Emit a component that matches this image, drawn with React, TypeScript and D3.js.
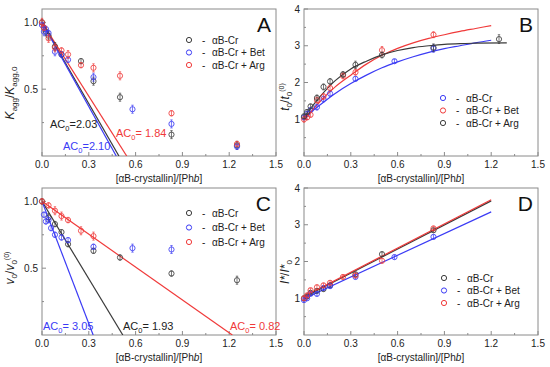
import React from 'react';
import * as d3 from 'd3';

// [ratio, value, error]
type Pt = [number, number, number];

// Panel A: Kagg/Kagg,0
const aCr: Pt[] = [[0, 1.0, 0.02], [0.0125, 0.96, 0.03], [0.025, 0.93, 0.03], [0.042, 0.9, 0.03], [0.083, 0.82, 0.03], [0.125, 0.76, 0.02], [0.25, 0.71, 0.02], [0.33, 0.56, 0.03], [0.5, 0.44, 0.03], [0.83, 0.16, 0.03], [1.25, 0.08, 0.03]];
const aBet: Pt[] = [[0, 0.98, 0.02], [0.0125, 0.93, 0.03], [0.025, 0.95, 0.02], [0.042, 0.92, 0.02], [0.083, 0.78, 0.03], [0.125, 0.76, 0.02], [0.167, 0.72, 0.02], [0.33, 0.59, 0.03], [0.58, 0.35, 0.03], [0.83, 0.24, 0.03], [1.25, 0.07, 0.02]];
const aArg: Pt[] = [[0, 1.0, 0.03], [0.0125, 0.96, 0.02], [0.042, 0.88, 0.03], [0.083, 0.81, 0.03], [0.125, 0.79, 0.02], [0.167, 0.76, 0.03], [0.25, 0.68, 0.02], [0.33, 0.66, 0.03], [0.5, 0.6, 0.03], [0.83, 0.32, 0.02], [1.25, 0.09, 0.02]];
const aLineCr: [number, number][] = [[0, 1.0], [0.493, 0]];
const aLineBet: [number, number][] = [[0, 1.0], [0.476, 0]];
const aLineArg: [number, number][] = [[0, 1.0], [0.543, 0]];

// Panel B: t0/t0(0)
const bCr: Pt[] = [[0, 1.05, 0.06], [0.02, 1.15, 0.06], [0.042, 1.25, 0.06], [0.083, 1.33, 0.08], [0.125, 1.55, 0.08], [0.167, 1.7, 0.08], [0.33, 2.1, 0.06], [0.58, 2.58, 0.05], [0.83, 2.92, 0.1]];
const bBet: Pt[] = [[0, 1.0, 0.08], [0.02, 1.05, 0.06], [0.042, 1.12, 0.06], [0.083, 1.52, 0.08], [0.125, 1.62, 0.08], [0.167, 1.85, 0.08], [0.25, 2.18, 0.08], [0.33, 2.28, 0.08], [0.5, 2.88, 0.1], [0.83, 3.3, 0.08]];
const bArg: Pt[] = [[0, 1.08, 0.06], [0.02, 1.2, 0.06], [0.042, 1.35, 0.06], [0.083, 1.58, 0.08], [0.125, 1.88, 0.08], [0.167, 2.03, 0.08], [0.25, 2.22, 0.08], [0.33, 2.48, 0.1], [0.5, 2.75, 0.08], [0.83, 2.95, 0.1], [1.25, 3.18, 0.12]];
const bFitCr: [number, number][] = [[0, 1.05], [0.1, 1.38], [0.2, 1.7], [0.3, 1.97], [0.4, 2.2], [0.5, 2.4], [0.6, 2.56], [0.7, 2.7], [0.8, 2.82], [0.9, 2.92], [1.0, 3.0], [1.1, 3.08], [1.2, 3.15]];
const bFitBet: [number, number][] = [[0, 0.98], [0.1, 1.47], [0.2, 1.88], [0.3, 2.2], [0.4, 2.5], [0.5, 2.74], [0.6, 2.93], [0.7, 3.08], [0.8, 3.2], [0.9, 3.3], [1.0, 3.39], [1.1, 3.47], [1.2, 3.55]];
const bFitArg: [number, number][] = [[0, 1.05], [0.1, 1.6], [0.2, 2.05], [0.3, 2.37], [0.4, 2.58], [0.5, 2.75], [0.6, 2.87], [0.7, 2.95], [0.8, 3.0], [0.9, 3.04], [1.0, 3.06], [1.1, 3.07], [1.3, 3.08]];

// Panel C: v0/v0(0)
const cCr: Pt[] = [[0, 1.0, 0.02], [0.042, 0.88, 0.03], [0.083, 0.83, 0.02], [0.125, 0.77, 0.02], [0.167, 0.68, 0.02], [0.33, 0.63, 0.02], [0.5, 0.58, 0.02], [0.83, 0.46, 0.02], [1.25, 0.41, 0.03]];
const cBet: Pt[] = [[0.0125, 0.9, 0.02], [0.025, 0.85, 0.02], [0.042, 0.86, 0.02], [0.058, 0.8, 0.02], [0.083, 0.75, 0.02], [0.125, 0.73, 0.02], [0.167, 0.71, 0.02], [0.33, 0.66, 0.02], [0.58, 0.65, 0.03], [0.83, 0.64, 0.03]];
const cArg: Pt[] = [[0, 1.0, 0.02], [0.042, 0.97, 0.02], [0.083, 0.93, 0.03], [0.125, 0.89, 0.03], [0.167, 0.86, 0.02], [0.25, 0.78, 0.03], [0.33, 0.74, 0.03]];
const cLineCr: [number, number][] = [[0, 1.0], [0.518, 0]];
const cLineBet: [number, number][] = [[0, 1.0], [0.328, 0]];
const cLineArg: [number, number][] = [[0, 1.0], [1.22, 0]];

// Panel D: I*/I*0
const dCr: Pt[] = [[0, 1.0, 0.05], [0.02, 1.05, 0.05], [0.042, 1.15, 0.05], [0.083, 1.2, 0.06], [0.125, 1.25, 0.06], [0.167, 1.35, 0.06], [0.33, 1.65, 0.06], [0.5, 2.2, 0.06], [0.83, 2.85, 0.06]];
const dBet: Pt[] = [[0, 0.95, 0.05], [0.02, 1.0, 0.05], [0.042, 1.12, 0.05], [0.083, 1.12, 0.06], [0.125, 1.28, 0.06], [0.167, 1.33, 0.06], [0.33, 1.58, 0.06], [0.58, 2.12, 0.06], [0.83, 2.67, 0.06]];
const dArg: Pt[] = [[0, 1.0, 0.05], [0.02, 1.08, 0.05], [0.042, 1.22, 0.05], [0.083, 1.3, 0.06], [0.125, 1.35, 0.06], [0.167, 1.42, 0.06], [0.25, 1.58, 0.05], [0.33, 1.62, 0.06], [0.5, 2.02, 0.06], [0.83, 2.9, 0.06]];
const dLineCr: [number, number][] = [[0, 1.03], [1.2, 3.65]];
const dLineBet: [number, number][] = [[0, 0.99], [1.2, 3.35]];
const dLineArg: [number, number][] = [[0, 1.05], [1.2, 3.68]];

const legendA = ['αB-Cr', 'αB-Cr + Bet', 'αB-Cr + Arg'];

const BLACK = '#3a3a3a';
const BLUE = '#3b3bf5';
const RED = '#f03a3a';
const FONT = 'Arial, "Liberation Sans", sans-serif';

const W = 234;
const H = 147;

interface Series { pts: Pt[]; color: string }
interface Line { pts: [number, number][]; color: string; smooth?: boolean }

interface PanelProps {
  x: number;
  y: number;
  letter: string;
  yMax: number;
  yMajor: number[];
  yMinor: number[];
  yFmt: (v: number) => string;
  yTitle: React.ReactNode;
  series: Series[];
  lines: Line[];
  legend: { label: string; color: string }[];
  legendX: number;
  legendY: number;
  legendStep: number;
  notes?: React.ReactNode;
}

const xMajor = [0, 0.3, 0.6, 0.9, 1.2, 1.5];
const xMinor = [0.15, 0.45, 0.75, 1.05, 1.35];

function Panel(p: PanelProps) {
  const xs = d3.scaleLinear().domain([0, 1.5]).range([0, W]);
  const ys = d3.scaleLinear().domain([0, p.yMax]).range([H, 0]);
  const straight = d3.line<[number, number]>().x(d => xs(d[0])).y(d => ys(d[1]));
  const smooth = d3.line<[number, number]>().x(d => xs(d[0])).y(d => ys(d[1])).curve(d3.curveMonotoneX);
  return (
    <g transform={`translate(${p.x},${p.y})`} fontFamily={FONT}>
      <defs>
        <clipPath id={`clip${p.letter}`}><rect x={0} y={0} width={W} height={H} /></clipPath>
      </defs>
      <rect x={0} y={0} width={W} height={H} fill="none" stroke="#8a8a8a" strokeWidth={1} />
      {xMajor.map(v => (
        <g key={'xm' + v}>
          <line x1={xs(v)} x2={xs(v)} y1={H} y2={H - 4} stroke="#8a8a8a" />
          <text x={xs(v)} y={H + 12} fontSize={10} textAnchor="middle" fill="#222">{v.toFixed(1)}</text>
        </g>
      ))}
      {xMinor.map(v => (
        <line key={'xn' + v} x1={xs(v)} x2={xs(v)} y1={H} y2={H - 2} stroke="#8a8a8a" />
      ))}
      {p.yMajor.map(v => (
        <g key={'ym' + v}>
          <line x1={0} x2={4} y1={ys(v)} y2={ys(v)} stroke="#8a8a8a" />
          <text x={-4} y={ys(v) + 3.5} fontSize={10} textAnchor="end" fill="#222">{p.yFmt(v)}</text>
        </g>
      ))}
      {p.yMinor.map(v => (
        <line key={'yn' + v} x1={0} x2={2} y1={ys(v)} y2={ys(v)} stroke="#8a8a8a" />
      ))}
      <text x={W / 2} y={H + 26} fontSize={10} textAnchor="middle" fill="#222">
        [αB-crystallin]/[Ph<tspan fontStyle="italic">b</tspan>]
      </text>
      {p.yTitle}
      <g clipPath={`url(#clip${p.letter})`}>
        {p.lines.map((l, i) => (
          <path key={'l' + i} d={(l.smooth ? smooth : straight)(l.pts) || ''} fill="none" stroke={l.color} strokeWidth={1.2} />
        ))}
      </g>
      {p.series.map((s, i) => (
        <g key={'s' + i}>
          {s.pts.map((d, j) => (
            <g key={j} stroke={s.color} fill="none" opacity={0.85}>
              <line x1={xs(d[0])} x2={xs(d[0])} y1={ys(d[1] - d[2])} y2={ys(d[1] + d[2])} strokeWidth={0.8} />
              <line x1={xs(d[0]) - 1.2} x2={xs(d[0]) + 1.2} y1={ys(d[1] - d[2])} y2={ys(d[1] - d[2])} strokeWidth={0.8} />
              <line x1={xs(d[0]) - 1.2} x2={xs(d[0]) + 1.2} y1={ys(d[1] + d[2])} y2={ys(d[1] + d[2])} strokeWidth={0.8} />
              <circle cx={xs(d[0])} cy={ys(d[1])} r={2.6} strokeWidth={1} />
            </g>
          ))}
        </g>
      ))}
      {p.legend.map((e, i) => (
        <g key={'lg' + i} transform={`translate(${p.legendX},${p.legendY + i * p.legendStep})`}>
          <circle cx={0} cy={0} r={2.6} fill="none" stroke={e.color} strokeWidth={1} />
          <text x={13} y={3.5} fontSize={10} fill="#222">-</text>
          <text x={23} y={3.5} fontSize={10} fill="#222">{e.label}</text>
        </g>
      ))}
      <text x={W - 5} y={23} fontSize={21} textAnchor="end" fill="#111">{p.letter}</text>
      {p.notes}
    </g>
  );
}

function ACLabel({ x, y, color, value, gap }: { x: number; y: number; color: string; value: string; gap?: boolean }) {
  return (
    <text x={x} y={y} fontSize={11} fill={color} fontFamily={FONT}>
      AC<tspan fontSize={7.5} dy={3}>0</tspan><tspan dy={-3}>={gap ? ' ' : ''}{value}</tspan>
    </text>
  );
}

function YTitle({ cx, cy, children }: { cx: number; cy: number; children: React.ReactNode }) {
  return (
    <text transform={`translate(${cx},${cy}) rotate(-90)`} textAnchor="middle" fontSize={12} fill="#222" fontFamily={FONT}>
      {children}
    </text>
  );
}

export default function App() {
  const yHalf = [0.5, 1.0];
  const yQuarter = [0.25, 0.75];
  const yInt = [1, 2, 3, 4];
  const yIntMinor = [0.5, 1.5, 2.5, 3.5];
  return (
    <svg width={550} height={367} style={{ position: 'absolute', left: 0, top: 0, background: '#fff' }}>
      <Panel
        x={42} y={9} letter="A" yMax={1.1} yMajor={yHalf} yMinor={yQuarter} yFmt={v => v.toFixed(1)}
        yTitle={
          <YTitle cx={-28} cy={84}>
            <tspan fontStyle="italic">K</tspan><tspan fontSize={8} dy={3}>agg</tspan>
            <tspan dy={-3}>/</tspan><tspan fontStyle="italic">K</tspan><tspan fontSize={8} dy={3}>agg,0</tspan>
          </YTitle>
        }
        series={[{ pts: aCr, color: BLACK }, { pts: aBet, color: BLUE }, { pts: aArg, color: RED }]}
        lines={[{ pts: aLineArg, color: RED }, { pts: aLineCr, color: BLACK }, { pts: aLineBet, color: BLUE }]}
        legend={[{ label: legendA[0], color: BLACK }, { label: legendA[1], color: BLUE }, { label: legendA[2], color: RED }]}
        legendX={147} legendY={31} legendStep={12.5}
        notes={
          <g>
            <ACLabel x={8} y={119} color="#222" value="2.03" />
            <ACLabel x={21} y={141} color={BLUE} value="2.10" />
            <ACLabel x={74} y={128} color={RED} value="1.84" gap />
          </g>
        }
      />
      <Panel
        x={304} y={9} letter="B" yMax={4} yMajor={yInt} yMinor={yIntMinor} yFmt={v => String(v)}
        yTitle={
          <YTitle cx={-15} cy={88}>
            <tspan fontStyle="italic">t</tspan><tspan fontSize={8} dy={3}>0</tspan>
            <tspan dy={-3}>/</tspan><tspan fontStyle="italic">t</tspan><tspan fontSize={8} dy={3}>0</tspan>
            <tspan fontSize={7} dy={-8}>(0)</tspan>
          </YTitle>
        }
        series={[{ pts: bCr, color: BLUE }, { pts: bBet, color: RED }, { pts: bArg, color: BLACK }]}
        lines={[{ pts: bFitCr, color: BLUE, smooth: true }, { pts: bFitBet, color: RED, smooth: true }, { pts: bFitArg, color: BLACK, smooth: true }]}
        legend={[{ label: legendA[0], color: BLUE }, { label: legendA[1], color: RED }, { label: legendA[2], color: BLACK }]}
        legendX={139} legendY={89} legendStep={12.5}
      />
      <Panel
        x={42} y={188} letter="C" yMax={1.1} yMajor={yHalf} yMinor={yQuarter} yFmt={v => v.toFixed(1)}
        yTitle={
          <YTitle cx={-28} cy={80}>
            <tspan fontStyle="italic">v</tspan><tspan fontSize={8} dy={3}>0</tspan>
            <tspan dy={-3}>/</tspan><tspan fontStyle="italic">v</tspan><tspan fontSize={8} dy={3}>0</tspan>
            <tspan fontSize={7} dy={-8}>(0)</tspan>
          </YTitle>
        }
        series={[{ pts: cCr, color: BLACK }, { pts: cBet, color: BLUE }, { pts: cArg, color: RED }]}
        lines={[{ pts: cLineCr, color: BLACK }, { pts: cLineBet, color: BLUE }, { pts: cLineArg, color: RED }]}
        legend={[{ label: legendA[0], color: BLACK }, { label: legendA[1], color: BLUE }, { label: legendA[2], color: RED }]}
        legendX={147} legendY={25} legendStep={14.5}
        notes={
          <g>
            <ACLabel x={1} y={142} color={BLUE} value="3.05" gap />
            <ACLabel x={81} y={142} color="#222" value="1.93" gap />
            <ACLabel x={188} y={142} color={RED} value="0.82" gap />
          </g>
        }
      />
      <Panel
        x={304} y={188} letter="D" yMax={4} yMajor={yInt} yMinor={yIntMinor} yFmt={v => String(v)}
        yTitle={
          <YTitle cx={-15} cy={84}>
            <tspan fontStyle="italic">I*</tspan><tspan dy={0}>/</tspan><tspan fontStyle="italic">I*</tspan>
            <tspan fontSize={8} dy={3}>0</tspan>
          </YTitle>
        }
        series={[{ pts: dCr, color: BLACK }, { pts: dBet, color: BLUE }, { pts: dArg, color: RED }]}
        lines={[{ pts: dLineBet, color: BLUE }, { pts: dLineCr, color: BLACK }, { pts: dLineArg, color: RED }]}
        legend={[{ label: legendA[0], color: BLACK }, { label: legendA[1], color: BLUE }, { label: legendA[2], color: RED }]}
        legendX={140} legendY={90} legendStep={12.5}
      />
    </svg>
  );
}
